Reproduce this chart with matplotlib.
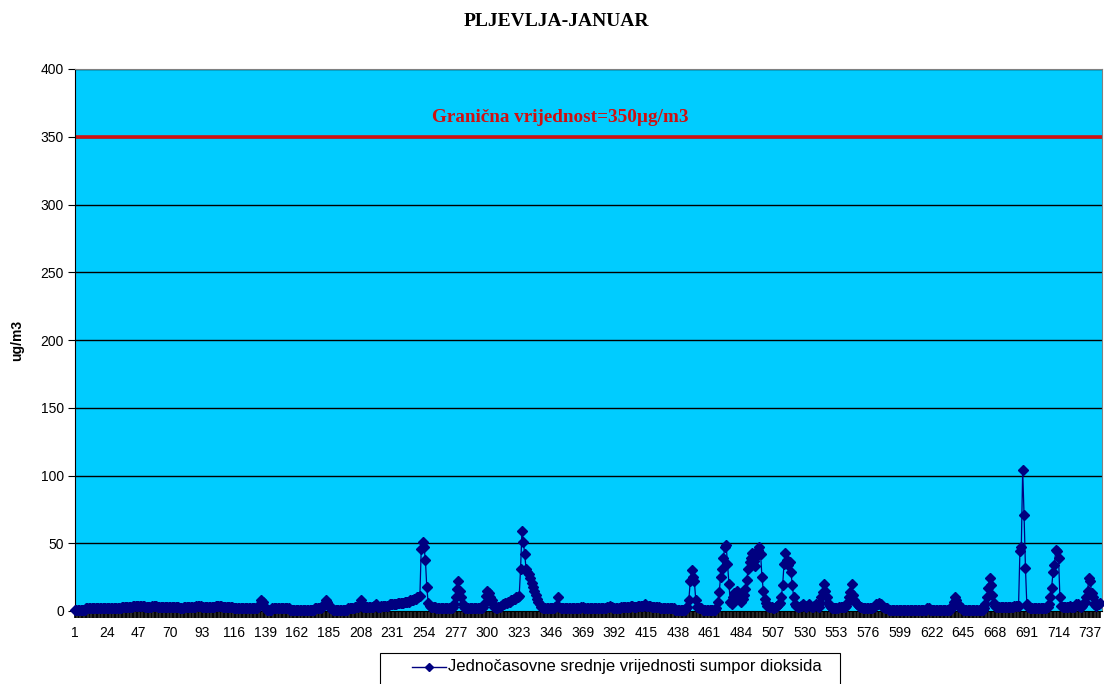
"""PLJEVLJA-JANUAR: hourly SO2 averages vs. the 350 ug/m3 limit value."""

import matplotlib.pyplot as plt
from matplotlib.lines import Line2D
from matplotlib.patches import Rectangle

# hourly values (ug/m3), one row per day of January
day_values = [
    [1, 1, 1, 1, 1, 1, 1, 1, 2, 2, 2, 2, 2, 2, 2, 2, 2, 2, 2, 2, 2, 2, 2, 2],
    [2, 2, 2, 2, 2, 2, 2, 2, 2, 2, 3, 3, 3, 3, 3, 3, 3, 3, 4, 4, 4, 4, 4, 4],
    [4, 4, 4, 3, 3, 3, 3, 3, 4, 4, 4, 4, 3, 3, 3, 3, 3, 3, 3, 3, 3, 3, 3, 3],
    [3, 3, 3, 3, 2, 2, 2, 3, 3, 3, 3, 3, 3, 3, 3, 3, 4, 4, 4, 4, 3, 3, 3, 3],
    [3, 3, 3, 3, 3, 3, 4, 4, 4, 4, 4, 3, 3, 3, 3, 3, 3, 3, 3, 2, 2, 2, 2, 2],
    [2, 2, 2, 2, 2, 2, 2, 2, 2, 2, 2, 2, 2, 3, 5, 8, 7, 4, 2, 1, 1, 1, 1, 2],
    [2, 2, 2, 2, 2, 2, 2, 2, 2, 2, 2, 2, 1, 1, 1, 1, 1, 1, 1, 1, 1, 1, 1, 1],
    [1, 1, 1, 1, 1, 1, 2, 2, 2, 2, 2, 3, 4, 6, 8, 7, 4, 2, 2, 1, 1, 1, 1, 1],
    [1, 1, 1, 1, 1, 1, 2, 2, 2, 2, 2, 3, 3, 3, 4, 8, 4, 3, 3, 3, 3, 3, 3, 3],
    [3, 4, 5, 4, 3, 3, 4, 4, 4, 4, 4, 4, 5, 5, 5, 5, 5, 5, 6, 6, 6, 6, 6, 7],
    [7, 7, 7, 8, 8, 8, 9, 9, 10, 10, 11, 46, 51, 47, 38, 18, 6, 4, 3, 3, 3, 3, 2, 2],
    [2, 2, 2, 2, 2, 2, 2, 2, 2, 2, 3, 5, 10, 16, 22, 15, 10, 5, 3, 2, 2, 2, 2, 2],
    [2, 2, 2, 2, 2, 2, 2, 2, 3, 6, 11, 15, 13, 10, 8, 5, 3, 2, 2, 3, 3, 4, 5, 5],
    [6, 6, 7, 7, 8, 8, 9, 9, 10, 10, 11, 31, 59, 51, 42, 31, 29, 27, 24, 21, 18, 15, 12, 9],
    [7, 5, 3, 2, 2, 2, 2, 2, 2, 2, 2, 2, 3, 4, 10, 3, 2, 2, 2, 2, 2, 2, 2, 2],
    [2, 2, 2, 2, 2, 2, 2, 3, 3, 2, 2, 2, 2, 2, 2, 2, 2, 2, 2, 2, 2, 2, 2, 2],
    [2, 2, 3, 3, 4, 3, 2, 2, 2, 2, 2, 2, 3, 3, 3, 3, 3, 3, 3, 4, 4, 3, 3, 3],
    [4, 4, 4, 4, 4, 5, 4, 4, 4, 4, 3, 3, 3, 3, 3, 3, 2, 2, 2, 2, 2, 2, 2, 2],
    [2, 2, 2, 1, 1, 1, 1, 1, 1, 1, 1, 2, 3, 8, 22, 30, 25, 22, 8, 3, 2, 2, 2, 1],
    [1, 1, 1, 1, 1, 1, 1, 1, 1, 2, 7, 14, 25, 31, 39, 47, 49, 35, 20, 7, 5, 10, 13, 10],
    [15, 12, 8, 7, 9, 12, 16, 23, 31, 36, 39, 43, 37, 33, 40, 45, 47, 42, 25, 15, 9, 6, 4, 3],
    [3, 3, 2, 2, 3, 4, 5, 6, 10, 19, 35, 43, 38, 34, 36, 29, 19, 10, 5, 4, 3, 3, 4, 4],
    [5, 4, 3, 4, 5, 4, 3, 3, 4, 5, 4, 3, 6, 10, 14, 20, 15, 10, 6, 4, 3, 2, 2, 2],
    [2, 2, 3, 3, 3, 3, 3, 4, 6, 10, 14, 20, 12, 8, 6, 5, 4, 3, 3, 2, 2, 2, 2, 2],
    [2, 2, 2, 3, 4, 5, 5, 6, 5, 4, 3, 2, 2, 2, 1, 1, 1, 1, 1, 1, 1, 1, 1, 1],
    [1, 1, 1, 1, 1, 1, 1, 1, 1, 1, 1, 1, 1, 1, 1, 1, 1, 1, 2, 2, 1, 1, 1, 1],
    [1, 1, 1, 1, 1, 1, 1, 1, 1, 1, 1, 2, 4, 7, 10, 8, 5, 3, 2, 2, 1, 1, 1, 1],
    [1, 1, 1, 1, 1, 1, 1, 1, 1, 1, 1, 2, 5, 10, 17, 24, 19, 12, 6, 4, 3, 3, 3, 3],
    [3, 3, 3, 3, 3, 3, 3, 3, 3, 4, 4, 4, 4, 44, 47, 104, 71, 32, 5, 3, 2, 2, 2, 2],
    [2, 2, 2, 2, 2, 2, 2, 2, 2, 3, 5, 10, 17, 29, 34, 45, 44, 39, 10, 4, 3, 3, 3, 3],
    [3, 4, 3, 3, 3, 4, 5, 5, 4, 3, 4, 5, 7, 10, 15, 24, 22, 13, 10, 5, 4, 5, 5, 6],
]
so2 = [v for day in day_values for v in day]
hours = list(range(1, len(so2) + 1))

limit_value = 350
y_ticks = [0, 50, 100, 150, 200, 250, 300, 350, 400]
x_tick_hours = list(range(1, 738, 23))

title = "PLJEVLJA-JANUAR"
limit_label = "Granična vrijednost=350µg/m3"
series_label = "Jednočasovne srednje vrijednosti sumpor dioksida"

SANS = ["Liberation Sans", "DejaVu Sans"]
SERIF = ["Liberation Serif", "DejaVu Serif"]
NAVY = "#000080"
W, H = 1104, 684

fig = plt.figure(figsize=(W / 100, H / 100), dpi=100)
ax = fig.add_axes([75 / W, 1 - 611 / H, 1027 / W, 542 / H])
ax.set_facecolor("#00CCFF")

for y in y_ticks[1:]:
    ax.axhline(y, color="black", lw=1.0, zorder=1)
ax.axhline(limit_value, color="#D01010", lw=2.6, zorder=2)

ax.plot(hours, so2, color=NAVY, lw=0.9, marker="D", markersize=5,
        markerfacecolor=NAVY, markeredgecolor=NAVY, zorder=3, clip_on=False)

ax.text(260, 364, limit_label, color="#D01010", fontsize=13.8,
        fontweight="bold", family=SERIF, va="center", ha="left")

ax.set_xlim(1, 745.5)
ax.set_ylim(0, 400)
ax.set_yticks(y_ticks)
ax.set_yticklabels([str(v) for v in y_ticks], family=SANS, fontsize=10)
ax.set_xticks(x_tick_hours)
ax.set_xticklabels([str(v) for v in x_tick_hours], family=SANS, fontsize=10)
ax.set_xticks(hours, minor=True)
ax.tick_params(axis="x", which="both", length=5, width=1.2, color="black",
               direction="out", pad=6)
ax.tick_params(axis="y", length=5, width=0.8, color="black", pad=3)

for side in ["top", "right"]:
    ax.spines[side].set_color("#808080")
ax.spines["left"].set_color("black")
ax.spines["bottom"].set_color("black")

ax.set_ylabel("ug/m3", family=SANS, fontsize=10, fontweight="bold", labelpad=12)
fig.text(0.504, 0.968, title, ha="center", va="center", family=SERIF,
         fontsize=14, fontweight="bold")

# legend box drawn by hand so it matches the wide Excel legend
leg_y = 1 - 667 / H
fig.patches.append(Rectangle((380 / W, -0.01), 460 / W, 0.01 + 1 - 653 / H,
                             transform=fig.transFigure, facecolor="white",
                             edgecolor="black", lw=0.8))
fig.lines.append(Line2D([412 / W, 446 / W], [leg_y, leg_y],
                        transform=fig.transFigure, color=NAVY, lw=1.0))
fig.lines.append(Line2D([429 / W], [leg_y], transform=fig.transFigure,
                        color=NAVY, marker="D", markersize=4.5, lw=0))
fig.text(448 / W, leg_y, series_label, ha="left", va="center",
         family=SANS, fontsize=12)

fig.savefig("out.png", dpi=100, facecolor="white")
